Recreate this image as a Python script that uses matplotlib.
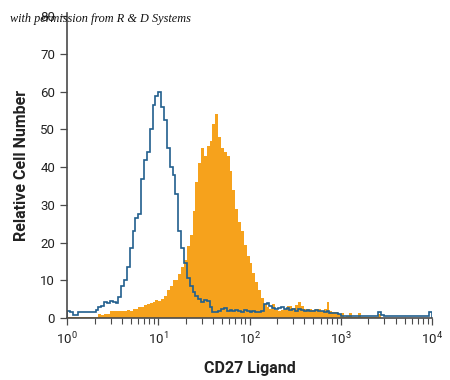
import numpy as np
import matplotlib
matplotlib.use("Agg")
import matplotlib.pyplot as plt
from matplotlib.ticker import LogLocator, LogFormatterMathtext, NullFormatter

FONT = ["Roboto", "DejaVu Sans"]
plt.rcParams.update({
    "font.family": FONT,
    "mathtext.fontset": "custom",
    "mathtext.rm": "Roboto",
    "mathtext.it": "Roboto:italic",
    "mathtext.bf": "Roboto:bold",
})

BLUE = "#215f8e"
ORANGE = "#f6a21c"
SPINE = "#4a4a4a"

# 32 log channels per decade, 10^0 .. 10^4
bins_per_decade = 32
n_decades = 4

# isotype control (blue outline)
isotype = [
    1.8, 1.6, 0.8, 0.8, 1.5, 1.6, 1.5, 1.7, 1.5, 1.6,
    2.1, 3.0, 3.2, 4.2, 4.0, 4.6, 4.3, 4.0, 5.6, 8.5,
    10.0, 13.5, 18.5, 23.0, 26.5, 27.5, 37.0, 42.0, 44.0, 50.0,
    56.5, 59.0, 60.0, 56.0, 52.5, 45.0, 40.0, 38.0, 33.0, 23.0,
    18.5, 14.5, 10.5, 8.5, 6.8, 5.8, 5.0, 4.3, 4.8, 4.5,
    2.8, 1.6, 1.7, 1.8, 2.5, 2.6, 2.0, 2.1, 1.8, 2.2,
    2.0, 1.6, 2.2, 2.0, 1.7, 1.8, 1.7, 1.7, 1.9, 3.8,
    4.0, 3.2, 2.6, 2.4, 2.6, 3.0, 2.4, 2.6, 2.2, 2.4,
    2.0, 2.3, 2.1, 2.0, 2.2, 1.9, 2.0, 2.1, 1.8, 2.0,
    1.7, 1.9, 1.4, 1.3, 1.3, 1.0, 0.5, 0.5, 0.5, 0.5,
    0.5, 0.5, 0.5, 0.5, 0.5, 0.5, 0.5, 0.5, 0.6, 1.6,
    0.7, 0.5, 0.5, 0.5, 0.5, 0.5, 0.5, 0.5, 0.5, 0.5,
    0.5, 0.5, 0.5, 0.5, 0.5, 0.5, 0.5, 1.5,
]

# CD27 Ligand stained cells (orange filled)
cd27l = [
    0.3, 0.3, 0.3, 0.3, 0.3, 0.3, 0.3, 0.3, 0.3, 0.3,
    0.3, 1.0, 0.8, 1.2, 1.0, 1.8, 1.8, 1.9, 1.8, 2.0,
    1.9, 2.2, 2.0, 2.5, 2.4, 3.0, 2.8, 3.4, 3.6, 4.0,
    4.3, 4.8, 4.6, 5.0, 5.8, 7.4, 8.5, 10.0, 10.2, 11.8,
    13.5, 15.5, 19.0, 22.0, 28.5, 36.0, 41.0, 45.0, 43.0, 45.5,
    47.0, 51.5, 54.0, 48.0, 45.0, 44.0, 43.0, 39.0, 34.0, 29.0,
    25.5, 23.0, 19.5, 16.5, 14.5, 12.0, 9.5, 7.5, 5.2, 3.8,
    3.0, 2.5, 3.8, 2.2, 2.0, 2.2, 2.4, 3.3, 3.2, 2.6,
    3.4, 4.2, 3.2, 2.4, 2.5, 2.4, 2.2, 2.5, 2.3, 2.0,
    2.3, 4.2, 2.0, 1.6, 1.5, 1.0, 1.4, 0.4, 0.5, 1.4,
    0.4, 0.4, 1.3, 0.3, 0.3, 0.3, 0.3, 0.3, 0.3, 1.2,
    0.0, 0.0, 0.0, 0.0, 0.0, 0.0, 0.0, 0.0, 0.0, 0.0,
    0.0, 0.0, 0.0, 0.0, 0.0, 0.0, 0.0, 0.0,
]

edges = 10 ** (np.arange(bins_per_decade * n_decades + 1) / bins_per_decade)

fig = plt.figure(figsize=(4.5, 3.8), dpi=100)
ax = fig.add_axes([0.149, 0.163, 0.811, 0.804])

ax.stairs(cd27l, edges, fill=True, color=ORANGE, linewidth=0)
ax.stairs(isotype, edges, color=BLUE, linewidth=1.2)

ax.set_xscale("log")
ax.set_xlim(1, 1e4)
ax.set_ylim(0, 81)
ax.set_yticks(range(0, 81, 10))
ax.xaxis.set_major_locator(LogLocator(base=10, numticks=10))
ax.xaxis.set_major_formatter(LogFormatterMathtext())
ax.xaxis.set_minor_locator(LogLocator(base=10, subs=np.arange(2, 10), numticks=20))
ax.xaxis.set_minor_formatter(NullFormatter())

for side in ("top", "right"):
    ax.spines[side].set_visible(False)
for side in ("left", "bottom"):
    ax.spines[side].set_color(SPINE)
    ax.spines[side].set_linewidth(1.2)

ax.tick_params(axis="both", which="major", direction="out", length=5,
               width=0.9, color=SPINE, labelsize=9.5, labelcolor="#222222")
ax.tick_params(axis="x", which="minor", direction="out", length=4,
               width=0.8, color=SPINE)
ax.tick_params(axis="x", pad=4)

ax.set_xlabel("CD27 Ligand", fontsize=11.5, fontweight="bold", color="#222222",
              labelpad=10)
ax.set_ylabel("Relative Cell Number", fontsize=11.5, fontweight="bold",
              color="#222222", labelpad=8)

fig.text(0.022, 0.943, "with permission from R & D Systems",
         fontsize=8.8, style="italic", family=["Liberation Serif", "DejaVu Serif"],
         color="#111111", zorder=10)

fig.savefig("out.png", dpi=100)
